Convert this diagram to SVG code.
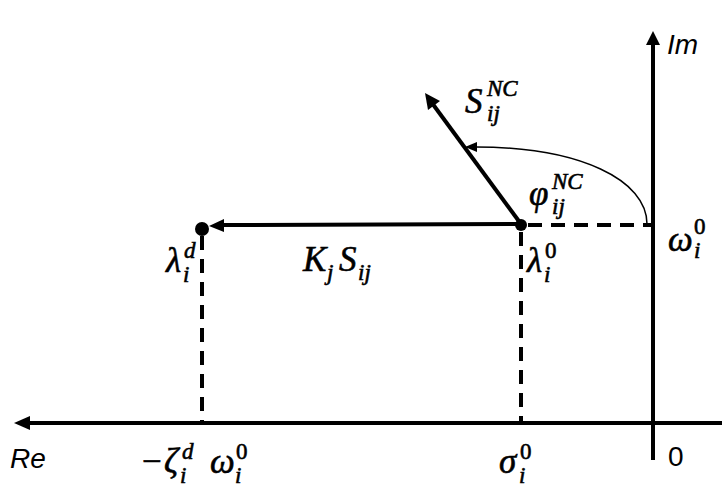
<svg xmlns="http://www.w3.org/2000/svg" width="728" height="502" viewBox="0 0 728 502">
<style>
.ax{stroke:#000;stroke-width:4;fill:none}
.dash{stroke:#000;stroke-width:4;fill:none;stroke-dasharray:14 9}
.m{font-family:"Liberation Serif","Times New Roman",serif;font-style:italic;fill:#000;stroke:#000;stroke-width:0.6}
.big{font-size:35px}
.sm{font-size:23px}
.up{font-style:normal}
.lab{font-family:"Liberation Sans",Arial,sans-serif;font-style:italic;font-size:28px;fill:#000}
</style>
<rect width="728" height="502" fill="#fff"/>
<g id="connectors">
  <line class="ax" x1="722" y1="423" x2="28" y2="423"/>
  <polygon points="14,423 30,416 30,430" fill="#000"/>
  <line class="ax" x1="653" y1="460" x2="653" y2="44"/>
  <polygon points="653,31 646,45 660,45" fill="#000"/>
  <line class="dash" x1="528" y1="225" x2="653" y2="225"/>
  <line class="dash" x1="202" y1="236" x2="202" y2="421"/>
  <line class="dash" x1="521" y1="232" x2="521" y2="421"/>
  <line class="ax" x1="521" y1="224" x2="222" y2="225"/>
  <polygon points="209,226 224,219 224,232" fill="#000"/>
  <line class="ax" x1="521" y1="224" x2="432" y2="103"/>
  <polygon points="425,93 428,110 440,101" fill="#000"/>
  <path d="M647,224 C647,180 580,147 476,147" stroke="#000" stroke-width="1.5" fill="none"/>
  <polygon points="465,147 477,142 477,152" fill="#000"/>
</g>
<g id="dot-ld"><circle cx="202" cy="229" r="7" fill="#000"/></g>
<g id="dot-l0"><circle cx="521" cy="225" r="6" fill="#000"/></g>
<g id="label-snc">
  <text class="m big" x="465" y="113">S</text>
  <text class="m sm" x="487" y="96">NC</text>
  <text class="m sm" x="487" y="121">ij</text>
</g>
<g id="label-phi">
  <text class="m big" x="529" y="205">φ</text>
  <text class="m sm" x="552" y="189">NC</text>
  <text class="m sm" x="552" y="214">ij</text>
</g>
<g id="label-omega">
  <text class="m big" x="668" y="251">ω</text>
  <text class="m sm up" x="694" y="234">0</text>
  <text class="m sm" x="694" y="258">i</text>
</g>
<g id="label-l0">
  <text class="m big" x="527" y="272">λ</text>
  <text class="m sm up" x="545" y="258">0</text>
  <text class="m sm" x="544" y="282">i</text>
</g>
<g id="label-ld">
  <text class="m big" x="166" y="272">λ</text>
  <text class="m sm" x="184" y="258">d</text>
  <text class="m sm" x="183" y="282">i</text>
</g>
<g id="label-ks">
  <text class="m big" x="303" y="271">K</text>
  <text class="m sm" x="327" y="280">j</text>
  <text class="m big" x="339" y="271">S</text>
  <text class="m sm" x="358" y="280">ij</text>
</g>
<g id="label-zeta">
  <text class="m big up" x="142" y="473">−</text>
  <text class="m big" x="164" y="473">ζ</text>
  <text class="m sm" x="182" y="459">d</text>
  <text class="m sm" x="180" y="483">i</text>
  <text class="m big" x="210" y="473">ω</text>
  <text class="m sm up" x="236" y="459">0</text>
  <text class="m sm" x="235" y="483">i</text>
</g>
<g id="label-sigma">
  <text class="m big" x="499" y="473">σ</text>
  <text class="m sm up" x="520" y="459">0</text>
  <text class="m sm" x="519" y="483">i</text>
</g>
<g id="label-re"><text class="lab" x="10" y="468">Re</text></g>
<g id="label-im"><text class="lab" x="667" y="54">Im</text></g>
<g id="label-zero"><text x="668" y="466" font-family="Liberation Sans,Arial,sans-serif" font-size="28" fill="#000">0</text></g>
</svg>
